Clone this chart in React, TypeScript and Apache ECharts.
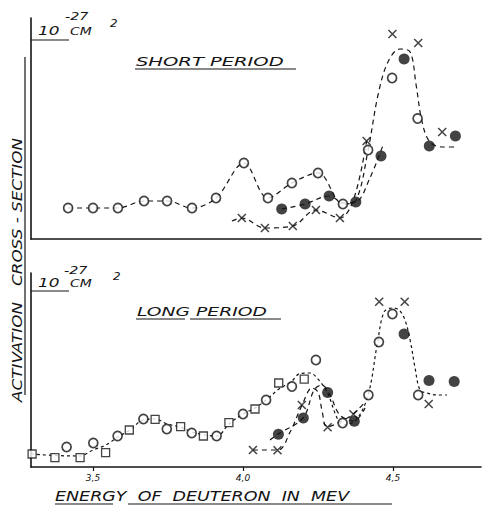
import React, { useEffect, useRef } from "react";
import * as echarts from "echarts";

// ---- data (energy in MeV, cross-section in arbitrary 10^-27 cm^2 units) ----
const xTickValues = [3.5, 4.0, 4.5];
const xTickLabels = ["3,5", "4,0", "4,5"];

const topCircles = [[3.417,3.1],[3.5,3.1],[3.583,3.1],[3.67,3.8],[3.747,3.8],[3.83,3.1],[3.91,4.1],[4.003,7.6],[4.083,4.1],[4.163,5.6],[4.25,6.6],[4.333,3.5],[4.417,8.9],[4.497,16.1],[4.582,12.05]];
const topDots = [[4.129,3.0],[4.207,3.5],[4.287,4.3],[4.376,3.7],[4.46,8.3],[4.537,18.0],[4.621,9.3],[4.708,10.3]];
const topCrosses = [[3.996,2.1],[4.073,1.1],[4.166,1.3],[4.243,2.9],[4.323,2.1],[4.412,9.8],[4.498,20.5],[4.584,19.6],[4.664,10.7]];
const topCurveA = [[3.417,3.1],[3.5,3.1],[3.583,3.1],[3.67,3.8],[3.747,3.8],[3.83,3.1],[3.91,4.1],[4.003,7.6],[4.083,4.1],[4.163,5.6],[4.25,6.6],[4.333,3.5],[4.377,3.9],[4.417,8.9],[4.45,14.4],[4.483,17.7],[4.523,19.0],[4.557,18.7],[4.577,15.4],[4.597,11.7],[4.623,9.7],[4.667,9.2],[4.713,9.2]];
const topCurveB = [[4.129,3.0],[4.207,3.5],[4.287,4.3],[4.337,3.6],[4.377,3.7],[4.423,6.1],[4.467,9.4]];
const topCurveC = [[3.963,1.8],[3.996,2.1],[4.073,1.1],[4.166,1.3],[4.243,2.9],[4.323,2.1],[4.37,4.1],[4.412,9.8]];

const botCircles = [[3.412,2.0],[3.501,2.4],[3.582,3.1],[3.668,4.8],[3.746,3.8],[3.829,3.4],[3.912,3.1],[4.0,5.3],[4.077,6.7],[4.163,8.05],[4.243,10.7],[4.332,4.4],[4.418,7.2],[4.453,12.5],[4.498,15.3],[4.584,7.2]];
const botSquares = [[3.297,1.3],[3.373,0.93],[3.457,0.93],[3.542,1.43],[3.621,3.7],[3.707,4.77],[3.792,4.03],[3.868,3.1],[3.953,4.43],[4.04,5.8],[4.119,8.4],[4.204,8.78]];
const botDots = [[4.118,3.28],[4.201,4.9],[4.282,7.45],[4.371,4.58],[4.537,13.3],[4.62,8.65],[4.704,8.55]];
const botCrosses = [[4.033,1.7],[4.115,1.67],[4.196,6.2],[4.282,3.98],[4.368,5.28],[4.454,16.53],[4.539,16.53],[4.619,6.3]];
const botCurveA = [[3.293,1.3],[3.373,1.15],[3.457,1.1],[3.5,1.7],[3.543,2.2],[3.583,3.0],[3.623,3.7],[3.667,4.7],[3.707,4.8],[3.747,4.3],[3.79,4.0],[3.83,3.5],[3.873,3.2],[3.913,3.1],[3.953,4.3],[4.0,5.3],[4.04,5.9],[4.077,6.7],[4.12,7.8],[4.16,8.5],[4.19,9.35],[4.223,9.4],[4.247,8.9],[4.28,7.5],[4.317,4.7],[4.337,4.25],[4.377,4.7],[4.417,7.2],[4.447,12.2],[4.47,15.5],[4.497,15.9],[4.52,15.7],[4.54,14.7],[4.557,12.7],[4.573,10.0],[4.59,7.7],[4.613,7.4],[4.647,7.2],[4.68,7.2]];
const botCurveB = [[4.09,2.7],[4.117,3.3],[4.2,4.9],[4.237,7.7],[4.263,8.2],[4.29,7.2],[4.323,5.2],[4.37,4.6],[4.407,5.9]];
const botCurveC = [[4.033,1.7],[4.117,1.7],[4.157,3.5],[4.197,6.2],[4.23,7.9],[4.25,7.5],[4.263,5.7],[4.28,4.0],[4.323,4.5],[4.367,5.3],[4.407,6.5]];

const X_MIN = 3.2933;
const X_MAX = 4.7933;
const TOP_MAX = 22.1;
const BOT_MAX = 19.4;

const FONT = "DejaVu Sans";
const INK = "#141414";
const CROSS = "path://M0,0L10,10M10,0L0,10";

function curve(data: number[][], grid: number, dash: number[] = [5, 4]) {
  return {
    type: "line",
    xAxisIndex: grid,
    yAxisIndex: grid,
    data,
    smooth: 0.35,
    symbol: "none",
    lineStyle: { color: INK, width: 1.2, type: dash },
    z: 1,
  };
}

function marks(data: number[][], grid: number, kind: string) {
  const base: any = { type: "scatter", xAxisIndex: grid, yAxisIndex: grid, data, z: 3 };
  if (kind === "circle") {
    return { ...base, symbol: "circle", symbolSize: 9, itemStyle: { color: "#fff", borderColor: INK, borderWidth: 1.7 } };
  }
  if (kind === "dot") {
    return { ...base, symbol: "circle", symbolSize: 11, itemStyle: { color: INK } };
  }
  if (kind === "square") {
    return { ...base, symbol: "rect", symbolSize: 8, itemStyle: { color: "#fff", borderColor: INK, borderWidth: 1.3 } };
  }
  return { ...base, symbol: CROSS, symbolSize: 8, itemStyle: { color: INK, borderColor: INK, borderWidth: 1.5 } };
}

function label(text: string, x: number, y: number, size: number, sx: number, extra: any = {}) {
  return {
    type: "text",
    x,
    y,
    scaleX: sx,
    z: 10,
    ...extra,
    style: {
      text,
      fontFamily: FONT,
      fontStyle: "italic",
      fontSize: size,
      fill: INK,
      textAlign: extra.align || "left",
      textVerticalAlign: "middle",
    },
  };
}

function rule(x1: number, y1: number, x2: number, y2: number, w = 1.2) {
  return { type: "line", z: 10, shape: { x1, y1, x2, y2 }, style: { stroke: INK, lineWidth: w } };
}

export default function App() {
  const ref = useRef<HTMLDivElement>(null);
  useEffect(() => {
    document.body.style.margin = "0";
    if (!ref.current) return;
    const chart = echarts.init(ref.current, undefined, { renderer: "svg" });
    const axisLine = { show: true, lineStyle: { color: INK, width: 1.6 } };
    const option: any = {
      animation: false,
      backgroundColor: "#fff",
      grid: [
        { left: 31, top: 18, width: 450, height: 221 },
        { left: 31, top: 273, width: 450, height: 194 },
      ],
      xAxis: [
        { type: "value", gridIndex: 0, min: X_MIN, max: X_MAX, axisLine, axisTick: { show: false }, axisLabel: { show: false }, splitLine: { show: false } },
        {
          type: "value", gridIndex: 1, min: X_MIN, max: X_MAX, axisLine,
          axisTick: { show: true, customValues: xTickValues, length: 4, lineStyle: { color: INK, width: 1.2 } },
          axisLabel: {
            show: true, customValues: xTickValues, margin: 6, fontSize: 9, fontStyle: "italic", fontFamily: FONT, color: INK,
            formatter: (v: number) => {
              const i = xTickValues.findIndex((t) => Math.abs(t - v) < 1e-6);
              return i >= 0 ? xTickLabels[i] : "";
            },
          },
          splitLine: { show: false },
        },
      ],
      yAxis: [
        { type: "value", gridIndex: 0, min: 0, max: TOP_MAX, axisLine, axisTick: { show: false }, axisLabel: { show: false }, splitLine: { show: false } },
        { type: "value", gridIndex: 1, min: 0, max: BOT_MAX, axisLine, axisTick: { show: false }, axisLabel: { show: false }, splitLine: { show: false } },
      ],
      series: [
        curve(topCurveA, 0),
        curve(topCurveB, 0),
        curve(topCurveC, 0),
        curve(botCurveA, 1, [3, 3]),
        curve(botCurveB, 1),
        curve(botCurveC, 1),
        marks(topCircles, 0, "circle"),
        marks(topDots, 0, "dot"),
        marks(topCrosses, 0, "cross"),
        marks(botSquares, 1, "square"),
        marks(botCircles, 1, "circle"),
        marks(botDots, 1, "dot"),
        marks(botCrosses, 1, "cross"),
      ],
      graphic: [
        // unit labels, top panel
        label("-27", 65, 16, 11, 1.3),
        label("10", 38, 31, 13, 1.3),
        label("CM", 70, 32, 10, 1.4),
        label("2", 110, 24, 10, 1.2),
        rule(31, 40, 69, 40),
        // unit labels, bottom panel
        label("-27", 64, 270, 11, 1.3),
        label("10", 38, 283, 13, 1.3),
        label("CM", 70, 284, 10, 1.4),
        label("2", 113, 277, 10, 1.2),
        rule(31, 291, 69, 291),
        // panel titles
        label("SHORT PERIOD", 136, 62, 13, 1.5),
        rule(135, 69, 296, 69),
        label("LONG PERIOD", 137, 312, 13, 1.44),
        rule(136, 319, 185, 319),
        rule(190, 319, 281, 319),
        // y axis title
        label("ACTIVATION   CROSS - SECTION", 17, 402, 14, 1.2, { rotation: Math.PI / 2 }),
        rule(25, 57, 25, 395),
        // x axis title
        label("ENERGY  OF  DEUTERON  IN  MEV", 55, 496, 14, 1.25),
        rule(55, 504, 113, 504),
        rule(128, 504, 392, 504),
      ],
    };
    chart.setOption(option);
    return () => chart.dispose();
  }, []);
  return <div ref={ref} style={{ width: 482, height: 508 }} />;
}
